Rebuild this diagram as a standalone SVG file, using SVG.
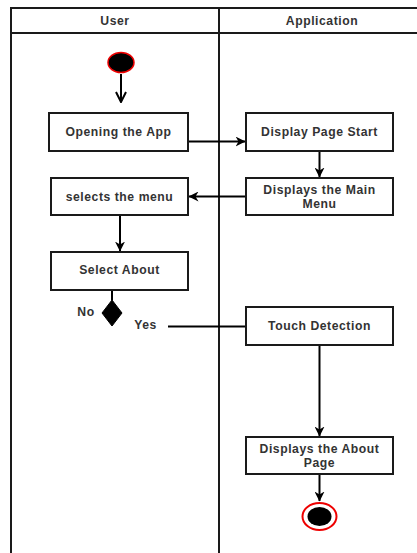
<svg xmlns="http://www.w3.org/2000/svg" width="417" height="553" viewBox="0 0 417 553">
<style>
.lane{fill:none;stroke:#1a1a1a;stroke-width:2}
.box{fill:#fff;stroke:#1a1a1a;stroke-width:2}
.t{font-family:"Liberation Sans",Arial,sans-serif;font-weight:bold;font-size:12.2px;letter-spacing:0.55px;fill:#333;text-anchor:middle}
.h{font-family:"Liberation Sans",Arial,sans-serif;font-weight:bold;font-size:12.2px;letter-spacing:0.55px;fill:#333;text-anchor:middle}
.c{fill:none;stroke:#000;stroke-width:2}
</style>
<defs>
<marker id="a" viewBox="0 0 10 10" refX="9.5" refY="5" markerWidth="10" markerHeight="10" markerUnits="userSpaceOnUse" orient="auto">
<path d="M0,0 L10,5 L0,10 L3,5 Z" fill="#000"/>
</marker>
<marker id="v" viewBox="0 0 12 12" refX="11" refY="6" markerWidth="12" markerHeight="12" markerUnits="userSpaceOnUse" orient="auto">
<path d="M1,1 L11,6 L1,11" fill="none" stroke="#000" stroke-width="2"/>
</marker>
</defs>
<rect width="417" height="553" fill="#fff"/>
<g id="lanes">
<rect class="lane" x="11" y="8" width="420" height="560"/>
<line class="lane" x1="11" y1="33" x2="431" y2="33"/>
<line class="lane" x1="219" y1="8" x2="219" y2="560"/>
<text class="h" x="115" y="24.5">User</text>
<text class="h" x="322" y="24.5">Application</text>
</g>
<g id="connectors">
<line class="c" x1="121" y1="74" x2="121" y2="102" marker-end="url(#v)"/>
<line class="c" x1="188" y1="141.5" x2="245" y2="141.5" marker-end="url(#a)"/>
<line class="c" x1="319.5" y1="151" x2="319.5" y2="177" marker-end="url(#a)"/>
<line class="c" x1="246" y1="196.5" x2="189" y2="196.5" marker-end="url(#a)"/>
<line class="c" x1="120" y1="215" x2="120" y2="251" marker-end="url(#a)"/>
<line class="c" x1="112" y1="290" x2="112" y2="300"/>
<line class="c" x1="168" y1="326.5" x2="246" y2="326.5"/>
<line class="c" x1="319.5" y1="345" x2="319.5" y2="436" marker-end="url(#a)"/>
<line class="c" x1="319.5" y1="474" x2="319.5" y2="501" marker-end="url(#a)"/>
</g>
<g id="start">
<ellipse cx="121" cy="62.5" rx="13" ry="10" fill="#000" stroke="#e00" stroke-width="1.5"/>
</g>
<g id="opening">
<rect class="box" x="49" y="113" width="139" height="38"/>
<text class="t" x="118.5" y="136">Opening the App</text>
</g>
<g id="displayStart">
<rect class="box" x="246" y="113" width="147" height="38"/>
<text class="t" x="319.5" y="136">Display Page Start</text>
</g>
<g id="mainMenu">
<rect class="box" x="246" y="178" width="147" height="37"/>
<text class="t" x="319.5" y="194">Displays the Main</text>
<text class="t" x="319.5" y="207.5">Menu</text>
</g>
<g id="selectsMenu">
<rect class="box" x="51" y="178" width="137" height="37"/>
<text class="t" x="119.5" y="200.5">selects the menu</text>
</g>
<g id="selectAbout">
<rect class="box" x="51" y="252" width="137" height="38"/>
<text class="t" x="119.5" y="274">Select About</text>
</g>
<g id="decision">
<path d="M112,300 L122,313 L112,326 L102,313 Z" fill="#000" stroke="#000" stroke-width="1"/>
<text class="t" x="86" y="316">No</text>
<text class="t" x="145.5" y="329">Yes</text>
</g>
<g id="touch">
<rect class="box" x="246" y="307" width="147" height="38"/>
<text class="t" x="319.5" y="330">Touch Detection</text>
</g>
<g id="aboutPage">
<rect class="box" x="246" y="437" width="147" height="37"/>
<text class="t" x="319.5" y="452.5">Displays the About</text>
<text class="t" x="319.5" y="467">Page</text>
</g>
<g id="end">
<ellipse cx="319.5" cy="516.5" rx="17" ry="13.5" fill="#fff" stroke="#e00" stroke-width="2"/>
<ellipse cx="319.5" cy="516.5" rx="12" ry="9.5" fill="#000"/>
</g>
</svg>
